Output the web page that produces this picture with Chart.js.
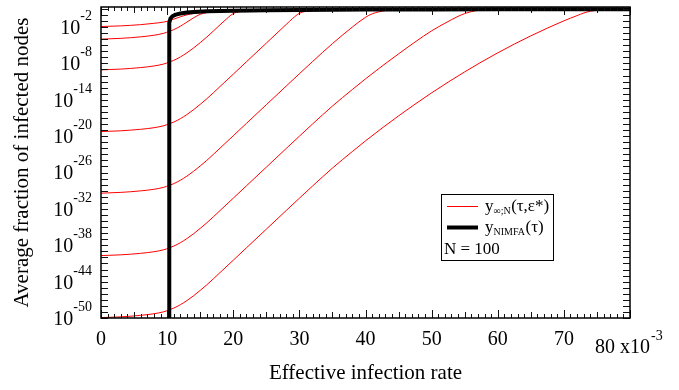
<!DOCTYPE html>
<html><head><meta charset="utf-8">
<script src="https://cdn.jsdelivr.net/npm/chart.js@4.4.1/dist/chart.umd.min.js"></script>
<style>html,body{margin:0;padding:0;background:#fff;}canvas{display:block;}</style>
</head><body>
<canvas id="c" width="679" height="390"></canvas>
<script>
// x: effective infection rate (units of 10^-3); y values stored as log10(average fraction)
const xTickLabels = [0, 10, 20, 30, 40, 50, 60, 70];
const yTickExps = [-2, -8, -14, -20, -26, -32, -38, -44, -50];

const tauA = [0,3,6,8,9.5,10.3,11,12,13,14,15,16,18,20,25,30,40,60,80];
const logA = [-2.92,-2.81,-2.61,-2.39,-2.18,-1.98,-1.70,-1.32,-0.99,-0.79,-0.66,-0.56,-0.43,-0.35,-0.25,-0.19,-0.14,-0.10,-0.08];

const tauB = [0,3,6,8,9.5,10.3,11,12,13,14,15,16,17,18,20,25,30,40,60,80];
const logB = [-5.00,-4.87,-4.62,-4.36,-4.03,-3.73,-3.43,-2.87,-2.18,-1.49,-0.91,-0.63,-0.50,-0.43,-0.35,-0.25,-0.19,-0.14,-0.10,-0.08];

const tauC = [0,3,6,8,9.5,10.3,11,12,13,14,15,16,18,19,20,21,22,24,26,30,40,60,80];
const logC = [-10.07,-9.94,-9.69,-9.43,-9.10,-8.80,-8.50,-7.94,-7.25,-6.46,-5.58,-4.66,-2.64,-1.65,-0.78,-0.46,-0.33,-0.27,-0.23,-0.19,-0.14,-0.10,-0.08];

const tauD = [0,3,6,8,9.5,10.3,11,12,13,14,15,16,18,20,22,25,28,29,30,31,32,34,40,60,80];
const logD = [-20.25,-20.12,-19.87,-19.61,-19.28,-18.98,-18.68,-18.12,-17.43,-16.64,-15.76,-14.84,-12.82,-10.78,-8.73,-5.66,-2.59,-1.57,-0.74,-0.41,-0.28,-0.20,-0.14,-0.10,-0.08];

const tauE = [0,3,6,8,9.5,10.3,11,12,13,14,15,16,18,20,22,25,28,30,32,35,38,40,41,42,43,45,50,60,80];
const logE = [-30.41,-30.28,-30.03,-29.77,-29.44,-29.14,-28.84,-28.28,-27.59,-26.80,-25.92,-25.00,-22.98,-20.94,-18.89,-15.82,-12.75,-10.71,-8.69,-5.74,-3.02,-1.40,-0.83,-0.50,-0.30,-0.20,-0.13,-0.10,-0.08];

const tauF = [0,3,6,8,9.5,10.3,11,12,13,14,15,16,18,20,22,25,28,30,32,35,38,40,45,50,52,54,55,56,57,59,62,70,80];
const logF = [-40.71,-40.58,-40.33,-40.07,-39.74,-39.44,-39.14,-38.58,-37.89,-37.10,-36.22,-35.30,-33.28,-31.24,-29.19,-26.12,-23.05,-21.01,-18.99,-16.04,-13.32,-11.55,-7.43,-3.63,-2.39,-1.24,-0.79,-0.46,-0.26,-0.15,-0.11,-0.09,-0.08];

const tauG = [0,3,6,8,9.5,10.3,11,12,13,14,15,16,18,20,22,25,28,30,32,35,38,40,45,50,55,60,65,70,72,73,74,75,77,80];
const logG = [-50.94,-50.81,-50.56,-50.30,-49.97,-49.67,-49.37,-48.81,-48.12,-47.33,-46.45,-45.53,-43.51,-41.47,-39.42,-36.35,-33.28,-31.24,-29.22,-26.27,-23.55,-21.78,-17.66,-13.86,-10.40,-7.26,-4.46,-1.98,-1.12,-0.69,-0.40,-0.23,-0.13,-0.10];

const tauNIMFA = [10.3,10.3,10.35,10.5,10.8,11.3,12,13,14,16,18,20,25,30,40,50,60,70,80];
const logNIMFA = [-53,-3.5,-2.3,-1.6,-1.22,-0.95,-0.77,-0.62,-0.52,-0.42,-0.35,-0.30,-0.23,-0.18,-0.13,-0.10,-0.08,-0.07,-0.06];

const toPts = (t, l) => t.map((v, i) => ({x: v, y: Math.pow(10, l[i])}));
const redCurves = [[tauA,logA],[tauB,logB],[tauC,logC],[tauD,logD],[tauE,logE],[tauF,logF],[tauG,logG]];

const FONT = '"Liberation Serif", "Times New Roman", serif';

const decor = {
  id: 'decor',
  afterDatasetsDraw(chart) {
    const {ctx, chartArea: {left, right, top, bottom}, scales: {x, y}} = chart;
    ctx.save();
    ctx.strokeStyle = '#111';
    ctx.lineWidth = 1;
    // x ticks (bottom & top, inward)
    for (let v = 0; v <= 80; v++) {
      const px = Math.round(x.getPixelForValue(v)) + 0.5;
      const len = v % 10 === 0 ? 8 : (v % 5 === 0 ? 6 : 4);
      ctx.beginPath();
      ctx.moveTo(px, bottom); ctx.lineTo(px, bottom - len);
      ctx.moveTo(px, top); ctx.lineTo(px, top + len);
      ctx.stroke();
    }
    // y ticks each decade (left & right, inward)
    for (let k = 0; k >= -51; k--) {
      const py = Math.round(y.getPixelForValue(Math.pow(10, k))) + 0.5;
      if (py < top || py > bottom + 1) continue;
      ctx.beginPath();
      ctx.moveTo(left, py); ctx.lineTo(left + 7, py);
      ctx.moveTo(right, py); ctx.lineTo(right - 7, py);
      ctx.stroke();
    }
    // frame
    ctx.lineWidth = 1.5;
    ctx.strokeStyle = '#000';
    ctx.strokeRect(left, top, right - left, bottom - top);

    ctx.fillStyle = '#000';
    // y tick labels 10^e
    ctx.textAlign = 'right';
    ctx.textBaseline = 'alphabetic';
    for (const e of yTickExps) {
      const py = y.getPixelForValue(Math.pow(10, e));
      const xr = left - 9;
      ctx.font = '14px ' + FONT;
      const s = String(e);
      const sw = ctx.measureText(s).width;
      ctx.fillText(s, xr, py - 1);
      ctx.font = '20px ' + FONT;
      ctx.fillText('10', xr - sw, py + 13);
    }
    // x tick labels
    ctx.textAlign = 'center';
    ctx.font = '20px ' + FONT;
    for (const v of xTickLabels) {
      ctx.fillText(String(v), x.getPixelForValue(v), bottom + 27);
    }
    // last tick with multiplier
    ctx.textAlign = 'left';
    const x80 = x.getPixelForValue(80) - 35;
    ctx.fillText('80 x10', x80, bottom + 35);
    const w80 = ctx.measureText('80 x10').width;
    ctx.font = '14px ' + FONT;
    ctx.fillText('-3', x80 + w80 + 1, bottom + 22);

    // axis titles
    ctx.font = '21px ' + FONT;
    ctx.textAlign = 'center';
    ctx.fillText('Effective infection rate', (left + right) / 2, 379);
    ctx.save();
    ctx.translate(27.5, (top + bottom) / 2);
    ctx.rotate(-Math.PI / 2);
    ctx.fillText('Average fraction of infected nodes', 0, 0);
    ctx.restore();

    // legend
    ctx.fillStyle = '#fff';
    ctx.fillRect(442, 194.5, 111, 66);
    ctx.lineWidth = 1;
    ctx.strokeStyle = '#000';
    ctx.strokeRect(441.5, 194.5, 112, 66);
    ctx.fillStyle = '#000';
    ctx.strokeStyle = 'rgb(255,0,0)';
    ctx.lineWidth = 1;
    ctx.beginPath(); ctx.moveTo(447, 206.5); ctx.lineTo(478, 206.5); ctx.stroke();
    ctx.strokeStyle = '#000';
    ctx.lineWidth = 4;
    ctx.beginPath(); ctx.moveTo(447, 227.5); ctx.lineTo(478, 227.5); ctx.stroke();

    ctx.textAlign = 'left';
    const row = (sub, tail, base) => {
      let xx = 485;
      ctx.font = '17px ' + FONT;
      ctx.fillText('y', xx, base);
      xx += ctx.measureText('y').width;
      ctx.font = '10px ' + FONT;
      ctx.fillText(sub, xx, base + 3);
      xx += ctx.measureText(sub).width + 0.5;
      ctx.font = '17px ' + FONT;
      ctx.fillText(tail, xx, base);
    };
    row('\u221E;N', '(\u03C4,\u03B5*)', 211);
    row('NIMFA', '(\u03C4)', 232);
    ctx.font = '17px ' + FONT;
    ctx.fillText('N = 100', 444, 254);
    ctx.restore();
  }
};

const datasets = [{
  label: 'NIMFA',
  data: toPts(tauNIMFA, logNIMFA),
  borderColor: '#000',
  borderWidth: 4,
  tension: 0,
  borderJoinStyle: 'round',
  pointRadius: 0,
  order: 0
}];
redCurves.forEach((c, i) => datasets.push({
  label: 'eps' + i,
  data: toPts(c[0], c[1]),
  borderColor: 'rgb(255,0,0)',
  borderWidth: 1,
  cubicInterpolationMode: 'monotone',
  pointRadius: 0,
  order: 1
}));

new Chart(document.getElementById('c'), {
  type: 'line',
  data: {datasets},
  options: {
    responsive: false,
    animation: false,
    devicePixelRatio: 1,
    layout: {padding: {left: 101, right: 49, top: 7, bottom: 72}},
    plugins: {legend: {display: false}, tooltip: {enabled: false}},
    scales: {
      x: {type: 'linear', min: 0, max: 80, display: false},
      y: {type: 'logarithmic', min: 1e-51, max: 2, display: false}
    }
  },
  plugins: [decor]
});
</script>
</body></html>
